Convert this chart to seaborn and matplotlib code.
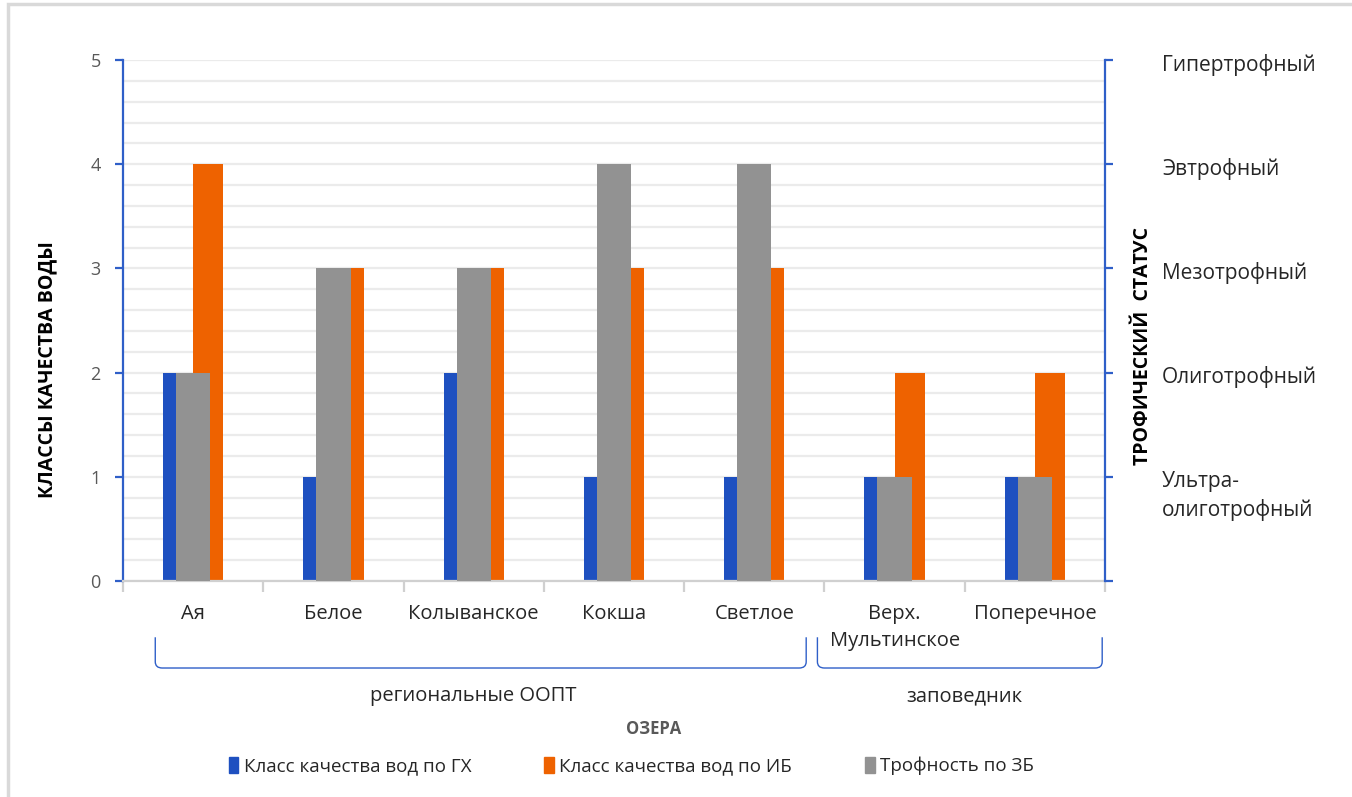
import matplotlib
matplotlib.use("Agg")
import matplotlib.pyplot as plt
import matplotlib.transforms as mtransforms
from matplotlib.patches import Patch, Rectangle, PathPatch
from matplotlib.path import Path
from matplotlib.ticker import MultipleLocator, FixedLocator
import seaborn as sns
import pandas as pd

# ---------------- data ----------------
lakes = ["Ая", "Белое", "Колыванское", "Кокша", "Светлое", "Верх.\nМультинское", "Поперечное"]
class_gh = [2, 1, 2, 1, 1, 1, 1]
class_ib = [4, 3, 3, 3, 3, 2, 2]
troph_zb = [2, 3, 3, 4, 4, 1, 1]
series_names = ["Класс качества вод по ГХ", "Класс качества вод по ИБ", "Трофность по ЗБ"]
trophic_labels = ["Ультра-\nолиготрофный", "Олиготрофный", "Мезотрофный", "Эвтрофный", "Гипертрофный"]
group_names = ["региональные ООПТ", "заповедник"]
group_members = [["Ая", "Белое", "Колыванское", "Кокша", "Светлое"],
                 ["Верх.\nМультинское", "Поперечное"]]

# ---------------- style ----------------
BLUE = "#1E50C0"
ORANGE = "#EE6200"
GRAY = "#929292"
AXBLUE = "#2F5FC8"
TXT = "#262626"
sns.set_theme(style="white")
plt.rcParams["font.family"] = ["Open Sans", "DejaVu Sans"]

fig = plt.figure(figsize=(13.52, 7.97), dpi=100)
ax = fig.add_axes([123 / 1352, 1 - 581 / 797, (1105 - 123) / 1352, (581 - 60) / 797])

df = pd.DataFrame({
    "lake": lakes * 2,
    "series": [series_names[0]] * len(lakes) + [series_names[1]] * len(lakes),
    "value": class_gh + class_ib,
})
sns.barplot(data=df, x="lake", y="value", hue="series", order=lakes,
            hue_order=series_names[:2], palette=[BLUE, ORANGE], width=0.43,
            saturation=1, linewidth=0, legend=False, ax=ax)

ax2 = ax.twinx()
sns.barplot(x=lakes, y=troph_zb, order=lakes, color=GRAY, width=0.245,
            saturation=1, linewidth=0, ax=ax2)

for a in (ax, ax2):
    a.set_xlim(-0.5, len(lakes) - 0.5)
    a.set_ylim(0, 5)
    a.set_xlabel("")

# gridlines
ax.yaxis.set_major_locator(MultipleLocator(1))
ax.yaxis.set_minor_locator(MultipleLocator(0.2))
ax.grid(True, which="both", axis="y", color="#EBEBEB", lw=1.6)
ax.grid(False, axis="x")
ax.set_axisbelow(True)

# spines
for s in ["top", "right"]:
    ax.spines[s].set_visible(False)
ax.spines["left"].set_color(AXBLUE)
ax.spines["left"].set_linewidth(1.6)
ax.spines["bottom"].set_color("#D0D0D0")
ax.spines["bottom"].set_linewidth(1.6)
for s in ["top", "left", "bottom"]:
    ax2.spines[s].set_visible(False)
ax2.spines["right"].set_color(AXBLUE)
ax2.spines["right"].set_linewidth(1.6)

# left ticks
ax.tick_params(axis="y", which="major", left=True, length=6, width=1.6, color=AXBLUE,
               labelsize=13, labelcolor="#595959", pad=10)
ax.tick_params(axis="y", which="minor", left=False)
ax.set_yticks(range(0, 6))
ax.set_ylabel("КЛАССЫ КАЧЕСТВА ВОДЫ", fontsize=14, fontweight="bold", color="black")
ax.yaxis.set_label_coords(-0.067, 0.405)

# x ticks
ax.set_xticks(range(len(lakes)))
ax.set_xticklabels(lakes, fontsize=14.5, color=TXT, linespacing=1.5)
ax.tick_params(axis="x", which="major", bottom=False, length=0, pad=16.5)
ax.xaxis.set_minor_locator(FixedLocator([i - 0.5 for i in range(len(lakes) + 1)]))
ax.tick_params(axis="x", which="minor", bottom=True, length=8, width=1.6, color="#D0D0D0")

# right ticks
ax2.set_yticks(range(0, 6))
ax2.set_yticklabels([""] + trophic_labels)
ax2.tick_params(axis="y", right=True, length=6, width=1.6, color=AXBLUE,
                labelsize=15, labelcolor=TXT, pad=35)
for t in ax2.get_yticklabels():
    t.set_horizontalalignment("left")
    t.set_linespacing(1.45)
    t.set_verticalalignment("top")
    t.set_transform(t.get_transform() + mtransforms.ScaledTranslation(0, 4.5 / 72, fig.dpi_scale_trans))
ax2.set_ylabel("ТРОФИЧЕСКИЙ  СТАТУС", fontsize=14, fontweight="bold", color="black",
               rotation=90)
ax2.yaxis.set_label_coords(1.0285, 0.451)

# group brackets and labels
trans = mtransforms.blended_transform_factory(ax.transData, ax.transAxes)
bracket_ext = [(-0.27, 4.37), (4.45, 6.48)]
y_low, y_high, r = -0.167, -0.108, 0.012
for name, members, (x0, x1) in zip(group_names, group_members, bracket_ext):
    rx = 0.05
    verts = [(x0, y_high), (x0, y_low + r), (x0, y_low), (x0 + rx, y_low),
             (x1 - rx, y_low), (x1, y_low), (x1, y_low + r), (x1, y_high)]
    codes = [Path.MOVETO, Path.LINETO, Path.CURVE3, Path.CURVE3,
             Path.LINETO, Path.CURVE3, Path.CURVE3, Path.LINETO]
    ax.add_patch(PathPatch(Path(verts, codes), transform=trans, fill=False,
                           edgecolor=AXBLUE, lw=1.0, clip_on=False))
    idx = [lakes.index(m) for m in members]
    ax.text((min(idx) + max(idx)) / 2, -0.221, name, transform=trans, ha="center",
            va="center", fontsize=14.5, color=TXT)

fig.text(654 / 1352, 1 - 729 / 797, "ОЗЕРА", ha="center", va="center", fontsize=12,
         fontweight="bold", color="#595959")

handles = [Patch(color=c) for c in (BLUE, ORANGE, GRAY)]
fig.legend(handles, series_names, loc="center", bbox_to_anchor=(0.467, 1 - 766 / 797),
           ncol=3, frameon=False, fontsize=13.5, handlelength=0.5, handleheight=0.9,
           handletextpad=0.3, columnspacing=3.9, labelcolor=TXT)

# outer frame
fig.patches.append(Rectangle((8 / 1352, -0.1), 1.2, 1.1 - 4 / 797, transform=fig.transFigure,
                             fill=False, edgecolor="#D9D9D9", lw=2.5))

fig.savefig("out.png", dpi=100, facecolor="white")
